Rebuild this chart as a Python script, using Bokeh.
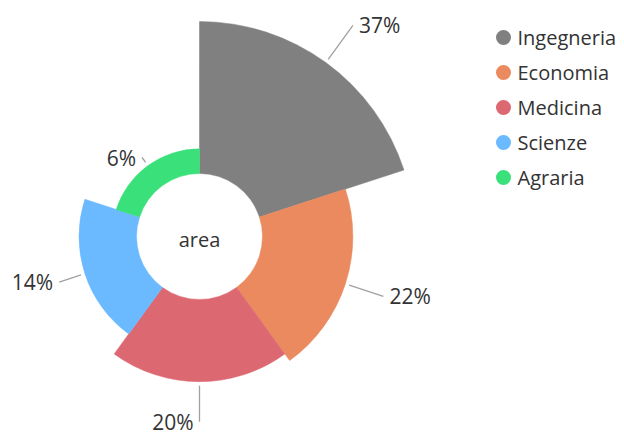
import math
from bokeh.plotting import figure
from bokeh.models import Range1d, ColumnDataSource
from bokeh.core.properties import value
from bokeh.embed import file_html
from bokeh.resources import INLINE

# ---- data ----
categories = ["Ingegneria", "Economia", "Medicina", "Scienze", "Agraria"]
values = [37, 22, 20, 14, 6]
colors = ["#808080", "#EA8A5E", "#DC6872", "#6BB9FF", "#3AE07A"]
center_label = "area"

# ---- style / layout ----
FONT = "Open Sans"
W, H = 624, 439
cx, cy = 199, -236          # centre (pixel-like coordinates, y up = -screen y)
r0, R = 63, 215             # inner radius, radius of the largest slice
label_len = [46, 40, 40, 27, 10]
text_color = "#333333"

p = figure(width=W, height=H, output_backend="svg", toolbar_location=None,
           x_range=Range1d(0, W), y_range=Range1d(-H, 0),
           min_border=0, x_axis_location=None, y_axis_location=None)
p.grid.visible = False
p.outline_line_color = None
p.background_fill_color = "white"
p.border_fill_color = "white"

n = len(values)
vmax = max(values)
total = sum(values)
step = 2 * math.pi / n
starts, ends, radii, mids = [], [], [], []
for i, v in enumerate(values):
    a0 = math.pi / 2 - i * step
    a1 = a0 - step
    starts.append(a0)
    ends.append(a1)
    radii.append(r0 + (R - r0) * v / vmax)
    mids.append((a0 + a1) / 2)

src = ColumnDataSource(dict(x=[cx] * n, y=[cy] * n, inner=[r0] * n, outer=radii,
                            start=starts, end=ends, color=colors))
p.annular_wedge(x="x", y="y", inner_radius="inner", outer_radius="outer",
                start_angle="start", end_angle="end", direction="clock",
                fill_color="color", line_color="color", line_width=0.5, source=src)

# labels with leader lines
xs, ys, lx, ly, lt, la = [], [], [], [], [], []
for i, v in enumerate(values):
    a = mids[i]
    c, s = math.cos(a), math.sin(a)
    ra = radii[i] + 4
    rb = radii[i] + label_len[i]
    x1, y1 = cx + ra * c, cy + ra * s
    x2, y2 = cx + rb * c, cy + rb * s
    xs.append([x1, x2])
    ys.append([y1, y2])
    right = c > 1e-6
    lx.append(x2 + (6 if right else -6))
    ly.append(y2)
    lt.append(f"{round(100 * v / total)}%")
    la.append("left" if right else "right")

p.multi_line(xs=xs, ys=ys, line_color="#a0a0a0", line_width=1.3)
p.text(x=lx, y=ly, text=lt, text_align=la, text_baseline="middle",
       text_font=value(FONT), text_font_size="21px", text_color=text_color)

p.text(x=[cx], y=[cy - 3], text=[center_label], text_align="center",
       text_baseline="middle", text_font=value(FONT), text_font_size="20px",
       text_color=text_color)

# legend (manual)
leg_x, leg_y0, leg_dy = 503, -37, -35
ly_leg = [leg_y0 + i * leg_dy for i in range(n)]
p.scatter(x=[leg_x] * n, y=ly_leg, size=15, marker="circle",
          fill_color=colors, line_color=None)
p.text(x=[leg_x + 14] * n, y=ly_leg, text=categories, text_align="left",
       text_baseline="middle", text_font=value(FONT), text_font_size="20px",
       text_color=text_color)

open("out.html", "w").write(file_html(p, INLINE))
